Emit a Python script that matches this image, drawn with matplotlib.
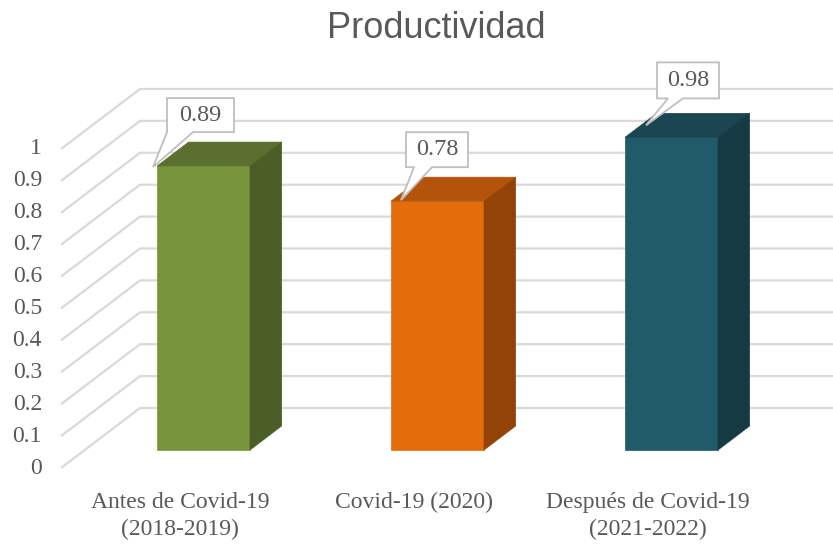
import matplotlib
matplotlib.use("Agg")
import matplotlib.pyplot as plt
from matplotlib.patches import Polygon

# ---------------- data ----------------
categories = ["Antes de Covid-19\n(2018-2019)", "Covid-19 (2020)", "Después de Covid-19\n(2021-2022)"]
values = [0.89, 0.78, 0.98]
value_labels = ["0.89", "0.78", "0.98"]
yticks = [0, 0.1, 0.2, 0.3, 0.4, 0.5, 0.6, 0.7, 0.8, 0.9, 1]
ytick_labels = ["0", "0.1", "0.2", "0.3", "0.4", "0.5", "0.6", "0.7", "0.8", "0.9", "1"]
title = "Productividad"

# ---------------- style ----------------
front_colors = ["#77933C", "#E46C0A", "#215A69"]
top_colors = ["#5B6F2E", "#B4540A", "#1B4550"]
side_colors = ["#4B5E26", "#944306", "#163A43"]
grid_color = "#D9D9D9"
text_color = "#595959"
serif = ["Liberation Serif", "DejaVu Serif"]

W, H, DPI = 833, 545, 100
fig = plt.figure(figsize=(W / DPI, H / DPI), dpi=DPI)
ax = fig.add_axes([0, 0, 1, 1])

PX_X = 234.0      # pixels per category
PX_Y = 319.0      # pixels per unit value
X0_PX = 203.5     # pixel x of first category centre (front face)
Y0_PX = 450.0     # pixel y of value 0 at bar front
ax.set_xlim(-X0_PX / PX_X, (W - X0_PX) / PX_X)
ax.set_ylim((Y0_PX - H) / PX_Y, Y0_PX / PX_Y)
ax.axis("off")

def px(dx, dy):
    """pixel offset (right, up) -> data offset"""
    return dx / PX_X, dy / PX_Y

fdx, fdy = px(79, 60)      # floor depth vector
bar_w = 93 / PX_X
bar_depth = 0.4
front_frac = 0.3
back_frac = 0.7

left_back_x = (140 - X0_PX) / PX_X
left_front_x = left_back_x - fdx
x_right = (W - X0_PX) / PX_X

# ---- gridlines ----
for v in yticks:
    yf = v - front_frac * fdy
    yb = v + back_frac * fdy
    ax.plot([left_front_x, left_back_x, x_right], [yf, yb, yb],
            color=grid_color, lw=1.6, solid_capstyle="butt", zorder=1)

for v, lab in zip(yticks, ytick_labels):
    yf = v - front_frac * fdy
    ax.text(left_front_x - 19 / PX_X, yf, lab, ha="right", va="center",
            fontsize=17, color=text_color, family=serif)

# ---- bars ----
ddx, ddy = bar_depth * fdx, bar_depth * fdy
xs = list(range(len(values)))
ax.bar(xs, values, width=bar_w, bottom=0, color=front_colors, zorder=3,
       edgecolor=front_colors, linewidth=0.5)
for i, v in enumerate(values):
    xl, xr = i - bar_w / 2, i + bar_w / 2
    ax.add_patch(Polygon([(xl, v), (xr, v), (xr + ddx, v + ddy), (xl + ddx, v + ddy)],
                         closed=True, fc=top_colors[i], ec=top_colors[i], lw=0.5, zorder=3))
    ax.add_patch(Polygon([(xr, 0), (xr + ddx, ddy), (xr + ddx, v + ddy), (xr, v)],
                         closed=True, fc=side_colors[i], ec=side_colors[i], lw=0.5, zorder=3))

# ---- category labels (baselines at 508 / 535 px) ----
for i, lab in enumerate(categories):
    for k, line in enumerate(lab.split("\n")):
        ax.text(i - front_frac * fdx, (Y0_PX - (508 + 27 * k)) / PX_Y, line,
                ha="center", va="baseline", fontsize=17, color=text_color, family=serif)

# ---- callouts ----
callouts = [
    (-4, -1, 10, 77, 34, 68, 10, 36),
    (10, 1, 15, 77, 34, 69, 23, 41),
    (21, 12, 32, 94, 39, 75, 43, 58),
]
for i, v in enumerate(values):
    cx, cy = i - bar_w / 2, v
    tdx, tdy, bx0, bx1, by0, by1, tl, tr = callouts[i]
    pts_px = [(bx0, by0), (tl, by0), (tdx, tdy), (tr, by0), (bx1, by0), (bx1, by1), (bx0, by1)]
    pts = [(cx + px(a, b)[0], cy + px(a, b)[1]) for a, b in pts_px]
    ax.add_patch(Polygon(pts, closed=True, fc="white", ec="#BFBFBF", lw=1.3, zorder=5))
    mx = cx + px((bx0 + bx1) / 2, 0)[0]
    my = cy + px(0, (by0 + by1) / 2)[1]
    ax.text(mx, my, value_labels[i], ha="center", va="center", fontsize=17.5,
            color=text_color, family=serif, zorder=6)

# ---- title ----
fig.text(436 / W, 1 - 29 / H, title, ha="center", va="center", fontsize=26,
         color=text_color, family="Liberation Sans")

fig.savefig("out.png", dpi=DPI)
